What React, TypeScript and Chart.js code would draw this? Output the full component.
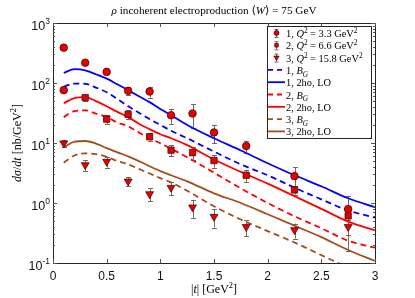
import React, { useEffect, useRef } from 'react';
import { Chart, registerables } from 'chart.js';
Chart.register(...registerables);

const tData1 = [0.1, 0.1, 0.3, 0.5, 0.7, 0.9, 1.1, 1.3, 1.5, 1.8, 2.25, 2.75];
const yData1 = [388, 76, 218, 153, 74, 72, 29, 31, 15, 8.9, 2.8, 0.79];
const eData1 = [25, 6, 15, 12, 12, 15, 8, 13, 5, 2, 1.2, 0.5];

const tData2 = [0.3, 0.5, 0.7, 0.9, 1.1, 1.3, 1.5, 1.8, 2.25, 2.75];
const yData2 = [57, 25, 30, 12.7, 7.6, 6.9, 5.1, 2.9, 1.65, 0.61];
const eData2 = [7, 4, 5, 1.8, 1.6, 1.6, 1.2, 0.7, 0.27, 0.08];

const tData3 = [0.1, 0.3, 0.5, 0.7, 0.9, 1.1, 1.3, 1.5, 1.8, 2.25, 2.75];
const yData3 = [9.9, 4.3, 4.9, 2.3, 1.41, 1.8, 0.85, 0.59, 0.4, 0.355, 0.4];
const eData3 = [1.3, 0.9, 1.0, 0.4, 0.35, 0.45, 0.28, 0.2, 0.12, 0.1, 0.24];

// ---- model curves ----
const curveT = [0.1, 0.2, 0.3, 0.4, 0.5, 0.6, 0.7, 0.8, 0.9, 1.0, 1.1, 1.25, 1.5, 1.75, 2.0, 2.25, 2.5, 2.75, 3.0];
const blue2ho = [148, 170, 163, 140, 118, 95, 76, 60, 48, 37, 29, 20, 12, 7.5, 4.6, 2.9, 1.9, 1.2, 0.85];
const blueBG = [87, 98, 97, 84, 70, 54, 41, 32, 25, 20, 16, 12, 7.2, 4.4, 2.9, 1.8, 1.15, 0.75, 0.57];
const red2ho = [46, 56, 58, 50, 41, 33, 27, 21, 17, 14, 12, 9.2, 5.3, 3.3, 2.1, 1.3, 0.8, 0.49, 0.35];
const redBG = [27, 34, 35, 31, 27, 22, 19, 15, 12, 9.9, 8, 5.8, 3.2, 1.75, 1.0, 0.6, 0.38, 0.235, 0.18];
const brown2ho = [8.5, 10.5, 10.8, 9.8, 8.2, 7, 6, 5, 4.1, 3.4, 2.9, 2.3, 1.45, 1.0, 0.65, 0.42, 0.27, 0.165, 0.108];
const brownBG = [4.7, 6.2, 6.7, 6.5, 5.9, 5.0, 4.4, 3.7, 3.1, 2.6, 2.2, 1.6, 0.88, 0.53, 0.34, 0.22, 0.135, 0.085, 0.06];

// ---- ticks and texts ----
const xTickValues = [0, 0.5, 1, 1.5, 2, 2.5, 3];
const xTickLabels = ['0', '0.5', '1', '1.5', '2', '2.5', '3'];
const yTickValues = [0.1, 1, 10, 100, 1000];
const yTickExponents = ['-1', '0', '1', '2', '3'];
const titleText = '*ρ* incoherent electroproduction ⟨*W*⟩ = 75 GeV';
const xTitle = '|*t*| [GeV^2]';
const yTitle = '*dσ*/*dt* [nb/GeV^2]';
const legendLabels = [
  '1, *Q*^2 = 3.3 GeV^2',
  '2, *Q*^2 = 6.6 GeV^2',
  '3, *Q*^2 = 15.8 GeV^2',
  '1, *B_G*',
  '1, 2ho, LO',
  '2, *B_G*',
  '2, 2ho, LO',
  '3, *B_G*',
  '3, 2ho, LO',
];

const BLUE = '#0000ff';
const RED = '#ff0000';
const BROWN = '#a24e1c';
const MARK = 'rgb(232,0,0)';
const MARK_EDGE = '#3a0000';
const SERIF = '"Liberation Serif", "DejaVu Serif", serif';
const SANS = '"Liberation Sans", Arial, sans-serif';
const AXIS = '#262626';

const markerSeries = [
  { t: tData1, y: yData1, e: eData1, style: 'circle', radius: 3.8, rot: 0 },
  { t: tData2, y: yData2, e: eData2, style: 'rect', radius: 4.5, rot: 0 },
  { t: tData3, y: yData3, e: eData3, style: 'triangle', radius: 4.6, rot: 180 },
];

const lineSeries = [
  { v: blueBG, color: BLUE, dash: [6, 4] },
  { v: blue2ho, color: BLUE, dash: [] as number[] },
  { v: redBG, color: RED, dash: [6, 4] },
  { v: red2ho, color: RED, dash: [] as number[] },
  { v: brownBG, color: BROWN, dash: [6, 4] },
  { v: brown2ho, color: BROWN, dash: [] as number[] },
];

type Seg = { text: string; italic: boolean; mode: number };
function parseRich(s: string): Seg[] {
  const segs: Seg[] = [];
  let italic = false;
  let buf = '';
  const flush = () => {
    if (buf) segs.push({ text: buf, italic, mode: 0 });
    buf = '';
  };
  for (let i = 0; i < s.length; i++) {
    const c = s[i];
    if (c === '*') {
      flush();
      italic = !italic;
    } else if (c === '^' || c === '_') {
      flush();
      segs.push({ text: s[i + 1], italic, mode: c === '^' ? 1 : 2 });
      i++;
    } else buf += c;
  }
  flush();
  return segs;
}

function drawRich(ctx: CanvasRenderingContext2D, s: string, x: number, y: number, size: number, family: string, align: string) {
  const segs = parseRich(s);
  const fontOf = (sg: Seg) => `${sg.italic ? 'italic ' : ''}${sg.mode ? size * 0.7 : size}px ${family}`;
  let w = 0;
  segs.forEach((sg) => {
    ctx.font = fontOf(sg);
    w += ctx.measureText(sg.text).width;
  });
  let cx = align === 'center' ? x - w / 2 : align === 'right' ? x - w : x;
  ctx.textAlign = 'left';
  ctx.textBaseline = 'alphabetic';
  segs.forEach((sg) => {
    ctx.font = fontOf(sg);
    const dy = sg.mode === 1 ? -size * 0.38 : sg.mode === 2 ? size * 0.25 : 0;
    ctx.fillText(sg.text, cx, y + dy);
    cx += ctx.measureText(sg.text).width;
  });
}

function drawMarker(ctx: CanvasRenderingContext2D, style: string, x: number, y: number, r: number) {
  ctx.beginPath();
  if (style === 'circle') ctx.arc(x, y, r, 0, Math.PI * 2);
  else if (style === 'rect') ctx.rect(x - r * 0.707, y - r * 0.707, r * 1.414, r * 1.414);
  else {
    ctx.moveTo(x - r * 0.866, y - r * 0.5);
    ctx.lineTo(x + r * 0.866, y - r * 0.5);
    ctx.lineTo(x, y + r);
    ctx.closePath();
  }
  ctx.fillStyle = MARK;
  ctx.fill();
  ctx.lineWidth = 0.7;
  ctx.strokeStyle = MARK_EDGE;
  ctx.stroke();
}

const errorBarPlugin = {
  id: 'errbars',
  beforeDatasetsDraw(chart: any) {
    const { ctx, chartArea } = chart;
    const xs = chart.scales.x;
    const ys = chart.scales.y;
    ctx.save();
    ctx.beginPath();
    ctx.rect(chartArea.left, chartArea.top, chartArea.right - chartArea.left, chartArea.bottom - chartArea.top);
    ctx.clip();
    ctx.strokeStyle = '#6a6a6a';
    ctx.lineWidth = 1;
    markerSeries.forEach((s) => {
      s.t.forEach((t, i) => {
        const px = Math.round(xs.getPixelForValue(t)) + 0.5;
        const top = ys.getPixelForValue(s.y[i] + s.e[i]);
        const lo = s.y[i] - s.e[i];
        const bot = lo > 0 ? ys.getPixelForValue(lo) : chartArea.bottom + 5;
        ctx.beginPath();
        ctx.moveTo(px, top);
        ctx.lineTo(px, bot);
        ctx.moveTo(px - 2.5, Math.round(top) + 0.5);
        ctx.lineTo(px + 2.5, Math.round(top) + 0.5);
        ctx.moveTo(px - 2.5, Math.round(bot) + 0.5);
        ctx.lineTo(px + 2.5, Math.round(bot) + 0.5);
        ctx.stroke();
      });
    });
    ctx.restore();
  },
};

const framePlugin = {
  id: 'frame',
  afterDraw(chart: any) {
    const { ctx, chartArea } = chart;
    const { left, right, top, bottom } = chartArea;
    const xs = chart.scales.x;
    const ys = chart.scales.y;
    ctx.save();
    // box
    ctx.strokeStyle = AXIS;
    ctx.lineWidth = 1;
    ctx.strokeRect(Math.round(left) + 0.5, Math.round(top) + 0.5, Math.round(right - left), Math.round(bottom - top));
    // ticks
    ctx.strokeStyle = '#555';
    ctx.beginPath();
    xTickValues.forEach((v) => {
      const px = Math.round(xs.getPixelForValue(v)) + 0.5;
      ctx.moveTo(px, bottom);
      ctx.lineTo(px, bottom - 4);
      ctx.moveTo(px, top);
      ctx.lineTo(px, top + 4);
    });
    for (let d = -1; d <= 3; d++) {
      for (let k = 1; k <= 9; k++) {
        const v = k * Math.pow(10, d);
        if (v > 1000.001) continue;
        const py = Math.round(ys.getPixelForValue(v)) + 0.5;
        const len = k === 1 ? 4 : 2;
        ctx.moveTo(left, py);
        ctx.lineTo(left + len, py);
        ctx.moveTo(right, py);
        ctx.lineTo(right - len, py);
      }
    }
    ctx.stroke();

    // tick labels
    ctx.fillStyle = '#111';
    ctx.font = `12px ${SANS}`;
    ctx.textAlign = 'center';
    ctx.textBaseline = 'alphabetic';
    xTickValues.forEach((v, i) => {
      ctx.fillText(xTickLabels[i], xs.getPixelForValue(v), bottom + 17);
    });
    yTickValues.forEach((v, i) => {
      const py = ys.getPixelForValue(v);
      ctx.font = `8.5px ${SANS}`;
      const ew = ctx.measureText(yTickExponents[i]).width;
      const ex = left - 3 - ew;
      ctx.textAlign = 'left';
      ctx.fillText(yTickExponents[i], ex, py + 1);
      ctx.font = `12.5px ${SANS}`;
      ctx.textAlign = 'right';
      ctx.fillText('10', ex, py + 7);
    });

    // titles
    ctx.fillStyle = '#000';
    drawRich(ctx, titleText, (left + right) / 2, 14, 11.2, SERIF, 'center');
    drawRich(ctx, xTitle, (left + right) / 2, 293, 12, SERIF, 'center');
    ctx.save();
    ctx.translate(21, (top + bottom) / 2);
    ctx.rotate(-Math.PI / 2);
    drawRich(ctx, yTitle, 0, 0, 12, SERIF, 'center');
    ctx.restore();

    // legend
    const lx = 267, ly = 26, lw = 104, lh = 112;
    ctx.fillStyle = '#fff';
    ctx.fillRect(lx, ly, lw, lh);
    ctx.strokeStyle = AXIS;
    ctx.lineWidth = 1;
    ctx.strokeRect(lx + 0.5, ly + 0.5, lw, lh);
    legendLabels.forEach((lab, i) => {
      const cy = ly + 7 + i * 12.3;
      const mx = lx + 9;
      if (i < 3) {
        const ms = markerSeries[i];
        ctx.strokeStyle = '#6a6a6a';
        ctx.lineWidth = 1;
        ctx.beginPath();
        ctx.moveTo(mx + 0.5, cy - 4);
        ctx.lineTo(mx + 0.5, cy + 4);
        ctx.moveTo(mx - 1.5, cy - 4 + 0.5);
        ctx.lineTo(mx + 2.5, cy - 4 + 0.5);
        ctx.moveTo(mx - 1.5, cy + 4 + 0.5);
        ctx.lineTo(mx + 2.5, cy + 4 + 0.5);
        ctx.stroke();
        drawMarker(ctx, ms.style, mx + 0.5, cy, ms.style === 'triangle' ? 3 : 2.5);
      } else {
        const ls = lineSeries[i - 3];
        ctx.strokeStyle = ls.color;
        ctx.lineWidth = 1.8;
        ctx.setLineDash(ls.dash.length ? [5, 4] : []);
        ctx.beginPath();
        ctx.moveTo(lx + 1, cy);
        ctx.lineTo(lx + 18, cy);
        ctx.stroke();
        ctx.setLineDash([]);
      }
      ctx.fillStyle = '#000';
      drawRich(ctx, lab, lx + 19, cy + 4, 10.4, SERIF, 'left');
    });
    ctx.restore();
  },
};

export default function App() {
  const ref = useRef<HTMLCanvasElement>(null);
  useEffect(() => {
    const datasets: any[] = [];
    markerSeries.forEach((s) => {
      datasets.push({
        type: 'scatter',
        data: s.t.map((t, i) => ({ x: t, y: s.y[i] })),
        pointStyle: s.style,
        pointRadius: s.radius,
        pointRotation: s.rot,
        backgroundColor: MARK,
        borderColor: MARK_EDGE,
        borderWidth: 0.7,
        showLine: false,
      });
    });
    lineSeries.forEach((l) => {
      datasets.push({
        type: 'scatter',
        data: curveT.map((t, i) => ({ x: t, y: l.v[i] })),
        showLine: true,
        pointRadius: 0,
        borderColor: l.color,
        backgroundColor: l.color,
        borderWidth: 1.8,
        borderDash: l.dash,
        tension: 0.3,
        cubicInterpolationMode: 'monotone',
      });
    });
    const chart = new Chart(ref.current!, {
      type: 'scatter',
      data: { datasets },
      options: {
        animation: false,
        responsive: false,
        devicePixelRatio: 1,
        layout: { padding: { left: 0, top: 23, right: 40, bottom: 0 } },
        plugins: { legend: { display: false }, title: { display: false }, tooltip: { enabled: false } },
        scales: {
          x: {
            type: 'linear',
            min: 0,
            max: 3,
            ticks: { display: false, stepSize: 0.5 },
            grid: { display: false },
            border: { display: false },
            afterFit: (s: any) => {
              s.height = 35;
            },
          },
          y: {
            type: 'logarithmic',
            min: 0.1,
            max: 1000,
            ticks: { display: false },
            grid: { display: false },
            border: { display: false },
            afterFit: (s: any) => {
              s.width = 53;
            },
          },
        },
      } as any,
      plugins: [errorBarPlugin, framePlugin],
    });
    return () => chart.destroy();
  }, []);
  return (
    <div style={{ position: 'fixed', left: 0, top: 0, width: 415, height: 298, background: '#fff' }}>
      <canvas ref={ref} width={415} height={298} style={{ display: 'block', width: 415, height: 298 }} />
    </div>
  );
}
